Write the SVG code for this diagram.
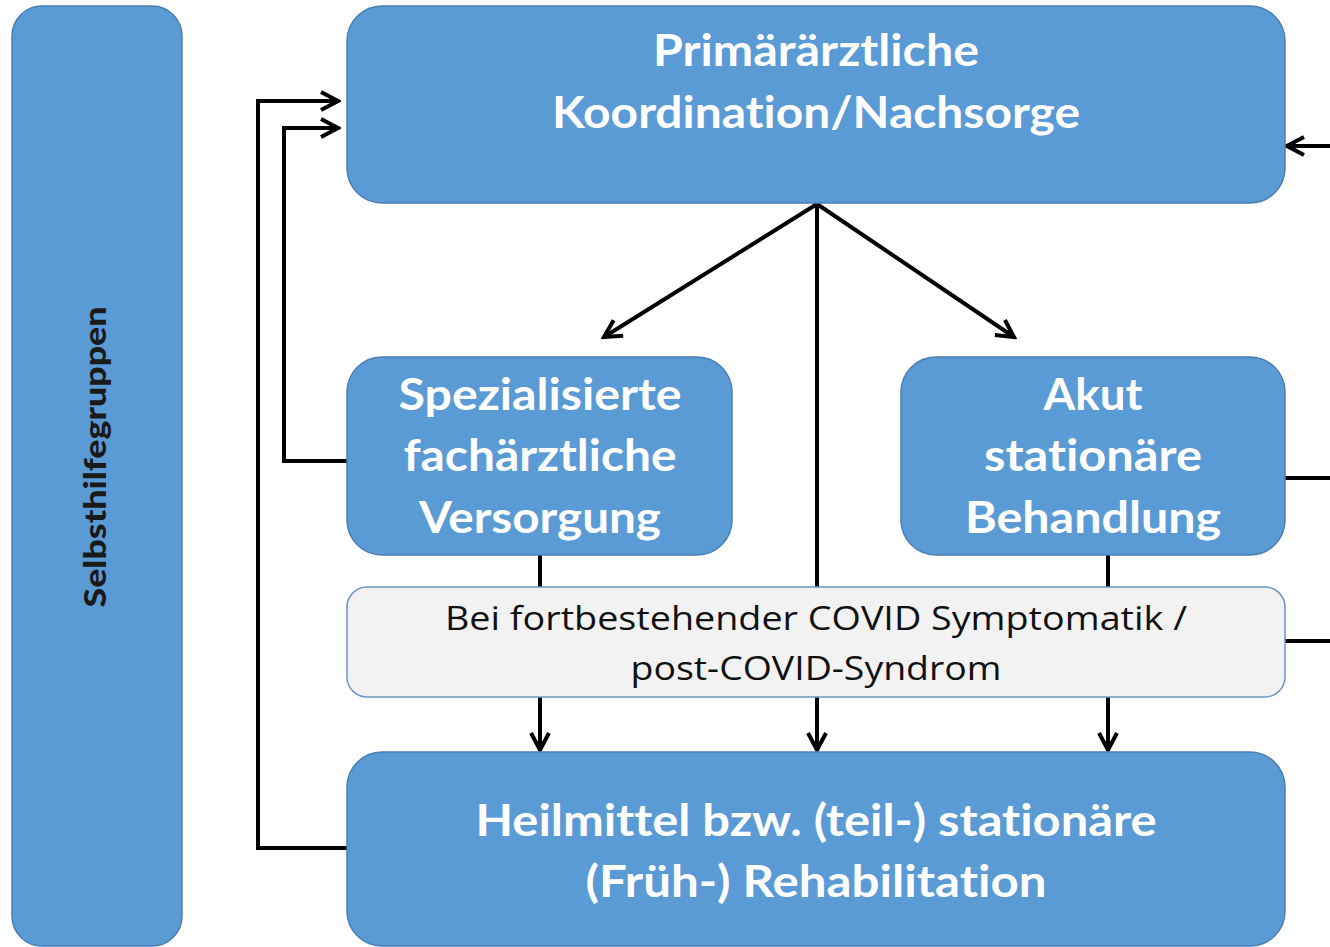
<svg xmlns="http://www.w3.org/2000/svg" width="1330" height="947" viewBox="0 0 1330 947">
<style>
text{font-variant-ligatures:none}
.box{fill:#5b9bd5;stroke:#4a7fb5;stroke-width:1.5}
.grey{fill:#f2f2f2;stroke:#6f95c4;stroke-width:1.5}
.wt{font-family:Lato,"Open Sans",sans-serif;font-weight:bold;font-size:43px;fill:#ffffff;text-anchor:middle}
.bt{font-family:"Open Sans",Lato,sans-serif;font-size:33px;fill:#111111;text-anchor:middle}
.lt{font-family:Lato,"Open Sans",sans-serif;font-weight:900;font-size:31px;fill:#1a1a1a;text-anchor:middle}
.c{fill:none;stroke:#000000;stroke-width:4}
</style>
<defs>
<marker id="ah" viewBox="0 0 22 22" refX="19" refY="11" markerWidth="22" markerHeight="22" markerUnits="userSpaceOnUse" orient="auto">
<path d="M2,2 L19,11 L2,20" fill="none" stroke="#000" stroke-width="4" stroke-linejoin="miter"/>
</marker>
</defs>
<rect width="1330" height="947" fill="#ffffff"/>
<g id="connectors">
<polyline class="c" points="347,848 258,848 258,101 338,101" marker-end="url(#ah)"/>
<polyline class="c" points="347,461 284,461 284,128 338,128" marker-end="url(#ah)"/>
<line class="c" x1="1330" y1="146" x2="1287" y2="146" marker-end="url(#ah)"/>
<line class="c" x1="1285" y1="478" x2="1330" y2="478"/>
<line class="c" x1="1285" y1="641" x2="1330" y2="641"/>
<line class="c" x1="817" y1="204" x2="604" y2="337" marker-end="url(#ah)"/>
<line class="c" x1="817" y1="204" x2="1014" y2="337" marker-end="url(#ah)"/>
<line class="c" x1="817" y1="204" x2="817" y2="587"/>
<line class="c" x1="540" y1="555" x2="540" y2="587"/>
<line class="c" x1="1108" y1="555" x2="1108" y2="587"/>
<line class="c" x1="540" y1="697" x2="540" y2="750" marker-end="url(#ah)"/>
<line class="c" x1="817" y1="697" x2="817" y2="750" marker-end="url(#ah)"/>
<line class="c" x1="1108" y1="697" x2="1108" y2="750" marker-end="url(#ah)"/>
</g>
<g id="selbsthilfe">
<rect class="box" x="12" y="6" width="170" height="940" rx="30"/>
<text class="lt" transform="translate(106,457) rotate(-90)" textLength="301" lengthAdjust="spacingAndGlyphs">Selbsthilfegruppen</text>
</g>
<g id="primaer">
<rect class="box" x="347" y="6" width="938" height="197" rx="35"/>
<text class="wt" x="816" y="66" textLength="326" lengthAdjust="spacingAndGlyphs">Primärärztliche</text>
<text class="wt" x="816" y="128" textLength="528" lengthAdjust="spacingAndGlyphs">Koordination/Nachsorge</text>
</g>
<g id="spezial">
<rect class="box" x="347" y="357" width="385" height="198" rx="35"/>
<text class="wt" x="540" y="410" textLength="283" lengthAdjust="spacingAndGlyphs">Spezialisierte</text>
<text class="wt" x="540" y="471" textLength="273" lengthAdjust="spacingAndGlyphs">fachärztliche</text>
<text class="wt" x="540" y="533" textLength="242" lengthAdjust="spacingAndGlyphs">Versorgung</text>
</g>
<g id="akut">
<rect class="box" x="901" y="357" width="384" height="198" rx="35"/>
<text class="wt" x="1093" y="410" textLength="99" lengthAdjust="spacingAndGlyphs">Akut</text>
<text class="wt" x="1093" y="471" textLength="218" lengthAdjust="spacingAndGlyphs">stationäre</text>
<text class="wt" x="1093" y="533" textLength="256" lengthAdjust="spacingAndGlyphs">Behandlung</text>
</g>
<g id="covid">
<rect class="grey" x="347" y="587" width="938" height="110" rx="20"/>
<text class="bt" x="816" y="630" textLength="742" lengthAdjust="spacingAndGlyphs">Bei fortbestehender COVID Symptomatik /</text>
<text class="bt" x="816" y="680" textLength="371" lengthAdjust="spacingAndGlyphs">post-COVID-Syndrom</text>
</g>
<g id="heilmittel">
<rect class="box" x="347" y="752" width="938" height="194" rx="35"/>
<text class="wt" x="816" y="836" textLength="681" lengthAdjust="spacingAndGlyphs">Heilmittel bzw. (teil-) stationäre</text>
<text class="wt" x="816" y="897" textLength="461" lengthAdjust="spacingAndGlyphs">(Früh-) Rehabilitation</text>
</g>
</svg>
